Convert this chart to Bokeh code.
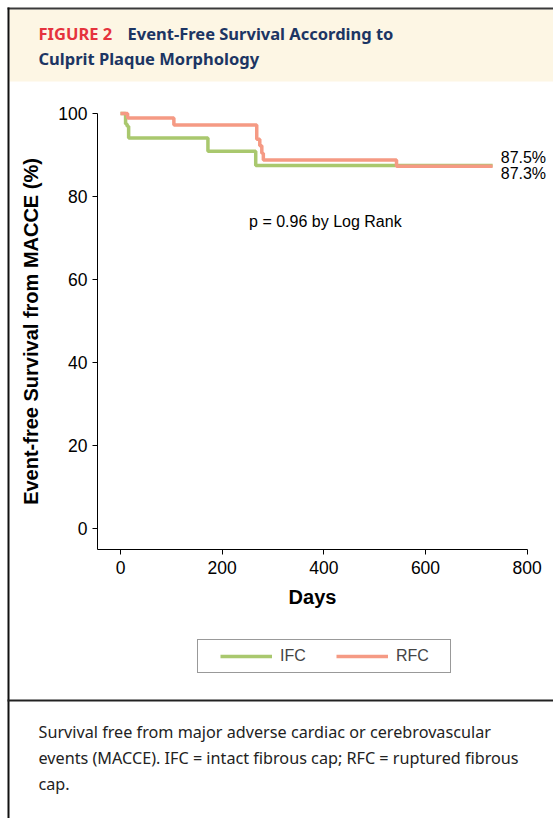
from bokeh.plotting import figure
from bokeh.models import Range1d, FixedTicker, Label, Legend, LegendItem, BoxAnnotation
from bokeh.embed import file_html
from bokeh.resources import INLINE

# ---------------- data ----------------
ifc_days = [0, 10, 13, 16, 172, 266, 732]
ifc_surv = [100, 97.5, 96.9, 94.1, 90.9, 87.5, 87.5]
rfc_days = [0, 14, 105, 268, 274, 278, 281, 543, 732]
rfc_surv = [100, 98.9, 97.2, 93.8, 92.2, 90.4, 88.8, 87.3, 87.3]
x_ticks = [0, 200, 400, 600, 800]
y_ticks = [0, 20, 40, 60, 80, 100]
series_names = ["IFC", "RFC"]
p_text = "p = 0.96 by Log Rank"
fig_tag = "FIGURE 2"
title_lines = ["Event-Free Survival According to", "Culprit Plaque Morphology"]
caption_lines = ["Survival free from major adverse cardiac or cerebrovascular",
                 "events (MACCE). IFC = intact fibrous cap; RFC = ruptured fibrous",
                 "cap."]

GREEN = "#a9c86e"
SALMON = "#f59a84"
CREAM = "#fdf6e4"
NAVY = "#1c3563"
RED = "#e5333d"

W, H = 553, 818
# pixel calibration of the plotting area (page pixels)
PX0, PXD = 120.0, 0.50833      # x pixel of day 0, pixels per day
PY0, PYU = 528.0, 4.15         # y pixel of 0 %, pixels per %
X_AXIS_AT = -5.06              # value where the x axis sits
Y_AXIS_AT = -45.2              # day where the y axis sits

p = figure(width=W, height=H,
           x_range=Range1d(-PX0 / PXD, (W - PX0) / PXD),
           y_range=Range1d(-(H - PY0) / PYU, PY0 / PYU),
           min_border=0, min_border_left=0, min_border_right=0, min_border_top=0, min_border_bottom=0,
           toolbar_location=None, output_backend="svg")
p.grid.visible = False
p.outline_line_color = None
p.background_fill_color = "white"
p.border_fill_color = "white"

# screen units: x from left edge, y up from bottom edge of the canvas
def box(l, r, t, b, color, level="underlay"):
    p.add_layout(BoxAnnotation(left=l, right=r, top=H - t, bottom=H - b,
                               left_units="screen", right_units="screen",
                               top_units="screen", bottom_units="screen",
                               fill_color=color, fill_alpha=1.0, line_alpha=0, level=level))

box(9, W, 9, 81, CREAM)            # header band
box(7, W, 7, 9, "#3a3a3a")         # top rule
box(7, 9, 7, H, "#111111")         # left rule
box(7, W, 699, 701, "#222222")     # rule above caption

def slabel(x, y_page, text, **kw):
    p.add_layout(Label(x=x, y=H - y_page, x_units="screen", y_units="screen", text=text,
                       text_baseline="alphabetic", **kw))

slabel(38, 33, fig_tag, text_font="Noto Sans", text_font_style="bold",
       text_font_size="16.5px", text_color=RED)
slabel(127, 33, title_lines[0], text_font="Noto Sans", text_font_style="bold",
       text_font_size="16.5px", text_color=NAVY)
slabel(38, 58, title_lines[1], text_font="Noto Sans", text_font_style="bold",
       text_font_size="16.5px", text_color=NAVY)
for i, t in enumerate(caption_lines):
    slabel(38, 731 + 26 * i, t, text_font="Noto Sans", text_font_size="16.2px", text_color="#222222")

# ---------------- curves ----------------
gl = p.step(ifc_days, ifc_surv, mode="after", line_color=GREEN, line_width=3.5)
rl = p.step(rfc_days, rfc_surv, mode="after", line_color=SALMON, line_width=3.5)

# ---------------- axes ----------------
for ax in (p.xaxis[0], p.yaxis[0]):
    ax.major_tick_out = 5
    ax.major_tick_in = 0
    ax.minor_tick_line_color = None
    ax.axis_line_color = "black"
    ax.major_tick_line_color = "black"
    ax.major_label_text_font = "Liberation Sans"
    ax.major_label_text_font_size = "17.5px"
    ax.major_label_text_color = "black"
    ax.axis_label_text_font = "Liberation Sans"
    ax.axis_label_text_font_style = "bold"
    ax.axis_label_text_color = "black"

p.xaxis.ticker = FixedTicker(ticks=x_ticks)
p.yaxis.ticker = FixedTicker(ticks=y_ticks)
p.xaxis.fixed_location = X_AXIS_AT
p.yaxis.fixed_location = Y_AXIS_AT
p.xaxis.bounds = (Y_AXIS_AT, max(x_ticks))
p.yaxis.bounds = (X_AXIS_AT, max(y_ticks))
p.xaxis.axis_label = "Days"
p.xaxis.axis_label_text_font_size = "20px"
p.xaxis.major_label_standoff = 7
p.xaxis.axis_label_standoff = 8
p.yaxis.axis_label = "Event-free Survival from MACCE (%)"
p.yaxis.axis_label_text_font_size = "20px"
p.yaxis.major_label_standoff = 5
p.yaxis.axis_label_standoff = 13

# ---------------- annotations ----------------
p.add_layout(Label(x=403, y=74, text=p_text, text_font="Liberation Sans", text_font_size="16px",
                   text_align="center", text_baseline="middle", text_color="black"))
p.add_layout(Label(x=748, y=ifc_surv[-1] + 2.0, text=f"{ifc_surv[-1]:.1f}%", text_font="Liberation Sans",
                   text_font_size="16px", text_baseline="middle", text_color="black"))
p.add_layout(Label(x=748, y=rfc_surv[-1] - 1.8, text=f"{rfc_surv[-1]:.1f}%", text_font="Liberation Sans",
                   text_font_size="16px", text_baseline="middle", text_color="black"))

legend = Legend(items=[LegendItem(label=series_names[0], renderers=[gl]),
                       LegendItem(label=series_names[1], renderers=[rl])],
                orientation="horizontal", location=(197, H - 673), margin=0, padding=7,
                spacing=9, glyph_width=52, glyph_height=18, label_height=18, label_width=47,
                label_standoff=8, label_text_font="Liberation Sans", label_text_font_size="16px",
                border_line_color="#333333", border_line_width=1,
                title=" ", title_location="left", title_text_font_size="8px", title_standoff=6)
p.add_layout(legend, "center")

open("out.html", "w").write(file_html(p, INLINE))
